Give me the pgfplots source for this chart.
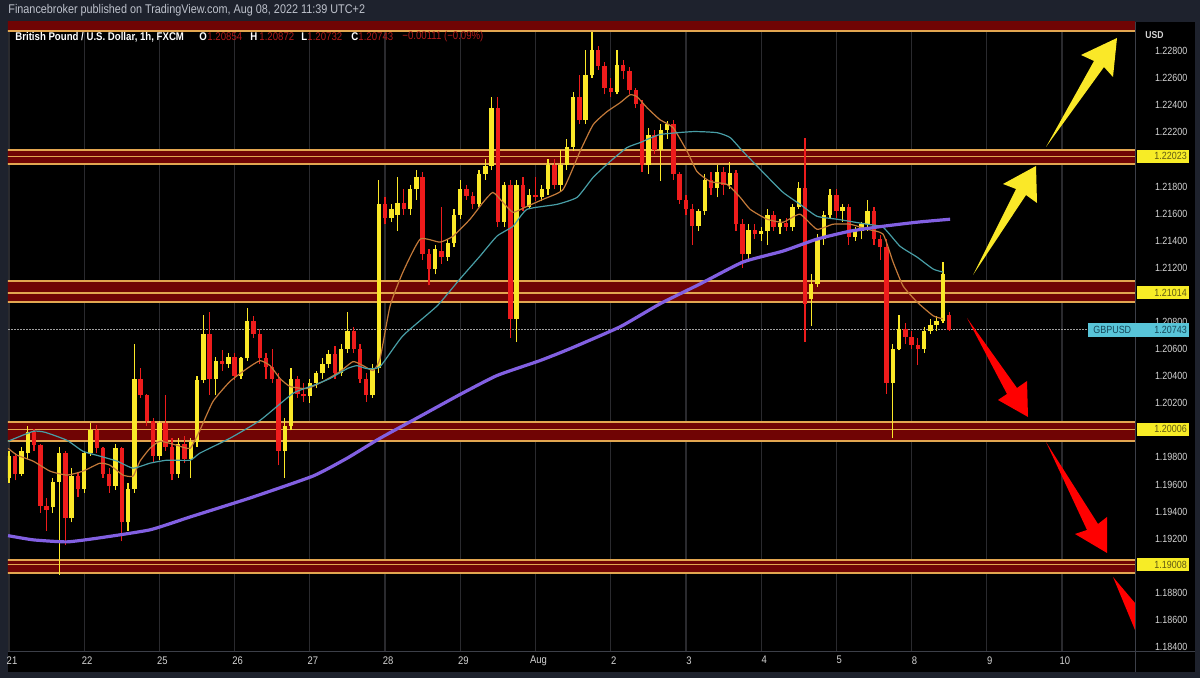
\documentclass[border=0pt]{standalone}
\usepackage{pgfplots}
\usepackage{pgfplotstable}
\pgfplotsset{compat=1.18}
\usepackage{fontspec}
\setmainfont{Liberation Sans}
\newfontfamily\tvfont[FakeStretch=0.86]{Liberation Sans}
\definecolor{framec}{RGB}{30,34,45}
\definecolor{candleup}{RGB}{250,232,40}
\definecolor{candledn}{RGB}{238,28,28}
\definecolor{zonefill}{RGB}{112,4,4}
\definecolor{zoneline}{RGB}{226,166,80}
\definecolor{gridc}{RGB}{42,42,46}
\definecolor{emaA}{RGB}{196,122,58}
\definecolor{emaB}{RGB}{72,158,166}
\definecolor{maC}{RGB}{130,96,226}
\definecolor{tickc}{RGB}{212,212,212}
\definecolor{hlbox}{RGB}{247,236,38}
\definecolor{hltext}{RGB}{95,88,20}
\definecolor{curbox}{RGB}{88,196,216}
\definecolor{curtext}{RGB}{22,70,88}
\definecolor{headc}{RGB}{190,194,204}
\definecolor{valc}{RGB}{176,26,26}
\definecolor{sepc}{RGB}{60,63,72}

% up candles: x (hours from Jul 21 00:00), open, high, low, close
\pgfplotstableread{
x o h l c
0 1.1965 1.1985 1.1961 1.1981
4 1.1968 1.1988 1.1966 1.1985
6 1.1983 1.2003 1.1979 1.1999
14 1.1943 1.1965 1.1939 1.1962
16 1.1962 1.1988 1.1893 1.1983
20 1.1935 1.1972 1.1932 1.1966
24 1.1957 1.1985 1.1954 1.1983
26 1.1983 1.2005 1.1981 1.2000
34 1.1959 1.1990 1.1956 1.1987
38 1.1932 1.1961 1.1926 1.1957
40 1.1957 1.2064 1.1954 1.2038
48 1.1981 1.2007 1.1978 1.2005
54 1.1968 1.1994 1.1965 1.1990
58 1.1979 1.1994 1.1965 1.1991
60 1.1991 1.2040 1.1988 1.2037
62 1.2037 1.2085 1.2035 1.2071
66 1.2038 1.2054 1.2026 1.2051
70 1.2049 1.2057 1.2046 1.2054
74 1.2040 1.2054 1.2038 1.2053
76 1.2053 1.2090 1.2051 1.2081
88 1.1985 1.2009 1.1965 1.2003
90 1.2003 1.2046 1.2000 1.2038
96 1.2025 1.2038 1.2020 1.2035
98 1.2035 1.2044 1.2031 1.2042
100 1.2042 1.2053 1.2038 1.2049
102 1.2049 1.2059 1.2046 1.2056
106 1.2042 1.2064 1.2040 1.2060
108 1.2060 1.2087 1.2057 1.2073
116 1.2026 1.2049 1.2024 1.2046
118 1.2046 1.2185 1.2042 1.2167
122 1.2157 1.2167 1.2154 1.2163
124 1.2159 1.2187 1.2147 1.2168
128 1.2163 1.2181 1.2159 1.2178
130 1.2178 1.2192 1.2170 1.2187
136 1.2119 1.2137 1.2115 1.2134
140 1.2128 1.2141 1.2125 1.2138
142 1.2138 1.2163 1.2135 1.2159
144 1.2159 1.2185 1.2156 1.2178
150 1.2167 1.2192 1.2165 1.2189
152 1.2189 1.2200 1.2185 1.2195
154 1.2195 1.2246 1.2192 1.2238
158 1.2154 1.2183 1.2150 1.2181
162 1.2082 1.2185 1.2065 1.2181
166 1.2165 1.2178 1.2163 1.2174
170 1.2172 1.2181 1.2169 1.2178
172 1.2178 1.2200 1.2174 1.2196
176 1.2181 1.2207 1.2176 1.2196
178 1.2196 1.2215 1.2192 1.2209
180 1.2209 1.2250 1.2206 1.2246
184 1.2229 1.2281 1.2226 1.2262
186 1.2262 1.2294 1.2260 1.2281
194 1.2250 1.2281 1.2248 1.2270
204 1.2196 1.2223 1.2189 1.2218
208 1.2207 1.2226 1.2184 1.2222
210 1.2222 1.2228 1.2215 1.2226
220 1.2151 1.2163 1.2147 1.2162
222 1.2162 1.2189 1.2159 1.2185
226 1.2179 1.2196 1.2172 1.2191
230 1.2181 1.2198 1.2178 1.2190
236 1.2130 1.2152 1.2125 1.2148
240 1.2145 1.2150 1.2140 1.2147
242 1.2147 1.2163 1.2137 1.2159
246 1.2150 1.2156 1.2145 1.2153
250 1.2150 1.2167 1.2147 1.2165
252 1.2165 1.2183 1.2163 1.2179
256 1.2097 1.2115 1.2077 1.2108
258 1.2108 1.2145 1.2106 1.2141
260 1.2141 1.2162 1.2137 1.2159
262 1.2159 1.2178 1.2157 1.2174
266 1.2162 1.2167 1.2154 1.2165
270 1.2143 1.2150 1.2140 1.2147
272 1.2147 1.2154 1.2141 1.2152
274 1.2152 1.2170 1.2147 1.2162
282 1.2035 1.2064 1.1994 1.2060
284 1.2060 1.2085 1.2059 1.2075
292 1.2060 1.2076 1.2057 1.2073
294 1.2073 1.2082 1.2071 1.2078
296 1.2078 1.2084 1.2073 1.2081
298 1.2081 1.2124 1.2079 1.2115
}\upc

% down candles
\pgfplotstableread{
x o h l c
2 1.1981 1.1983 1.1963 1.1968
8 1.1999 1.2001 1.1985 1.1989
10 1.1989 1.1990 1.1939 1.1944
12 1.1944 1.1950 1.1926 1.1941
18 1.1983 1.1985 1.1915 1.1935
22 1.1966 1.1969 1.1951 1.1957
28 1.2000 1.2004 1.1983 1.1987
30 1.1987 1.1988 1.1965 1.1968
32 1.1968 1.1972 1.1954 1.1959
36 1.1987 1.1988 1.1918 1.1932
42 1.2038 1.2046 1.2024 1.2026
44 1.2026 1.2027 1.2003 1.2007
46 1.2007 1.2009 1.1976 1.1981
50 1.2005 1.2026 1.1985 1.1988
52 1.1988 1.1994 1.1963 1.1968
56 1.1990 1.1996 1.1976 1.1979
64 1.2071 1.2087 1.2026 1.2038
68 1.2051 1.2059 1.2044 1.2049
72 1.2054 1.2057 1.2037 1.2040
78 1.2081 1.2084 1.2068 1.2071
80 1.2071 1.2075 1.2049 1.2053
82 1.2053 1.2057 1.2038 1.2047
84 1.2047 1.2060 1.2035 1.2038
86 1.2038 1.2042 1.1974 1.1985
92 1.2038 1.2040 1.2024 1.2027
94 1.2027 1.2035 1.2021 1.2025
104 1.2056 1.2062 1.2038 1.2042
110 1.2073 1.2076 1.2057 1.2060
112 1.2060 1.2064 1.2035 1.2038
114 1.2038 1.2042 1.2021 1.2026
120 1.2167 1.2172 1.2152 1.2157
126 1.2168 1.2178 1.2159 1.2163
132 1.2187 1.2191 1.2126 1.2130
134 1.2130 1.2134 1.2107 1.2119
138 1.2132 1.2165 1.2123 1.2128
146 1.2178 1.2181 1.2170 1.2173
148 1.2173 1.2176 1.2163 1.2167
156 1.2238 1.2246 1.2150 1.2154
160 1.2181 1.2185 1.2068 1.2082
164 1.2181 1.2187 1.2162 1.2165
168 1.2174 1.2187 1.2169 1.2172
174 1.2196 1.2200 1.2178 1.2181
182 1.2246 1.2262 1.2226 1.2229
188 1.2281 1.2284 1.2266 1.2269
190 1.2269 1.2272 1.2248 1.2253
192 1.2253 1.2260 1.2246 1.2250
196 1.2270 1.2273 1.2259 1.2265
198 1.2265 1.2268 1.2248 1.2251
200 1.2251 1.2253 1.2238 1.2241
202 1.2241 1.2244 1.2191 1.2196
206 1.2218 1.2222 1.2204 1.2207
212 1.2226 1.2229 1.2185 1.2189
214 1.2189 1.2191 1.2167 1.2170
216 1.2170 1.2174 1.2159 1.2163
218 1.2163 1.2167 1.2137 1.2151
224 1.2185 1.2191 1.2174 1.2179
228 1.2191 1.2194 1.2174 1.2181
232 1.2190 1.2192 1.2147 1.2152
234 1.2152 1.2156 1.2120 1.2130
238 1.2148 1.2152 1.2141 1.2145
244 1.2159 1.2162 1.2147 1.2150
248 1.2153 1.2157 1.2147 1.2150
254 1.2179 1.2216 1.2065 1.2093
264 1.2174 1.2178 1.2157 1.2162
268 1.2165 1.2167 1.2137 1.2143
276 1.2162 1.2165 1.2137 1.2141
278 1.2141 1.2144 1.2126 1.2135
280 1.2135 1.2141 1.2027 1.2035
286 1.2075 1.2079 1.2064 1.2069
288 1.2069 1.2073 1.2060 1.2063
290 1.2063 1.2068 1.2048 1.2060
300 1.20854 1.20872 1.20732 1.20743
}\dnc

% purple long moving average
\pgfplotstableread{
x y
-0.3 1.19222
7.7 1.19191
18.5 1.19176
29.0 1.19206
45.0 1.19265
57.8 1.19360
76.9 1.19500
97.0 1.19662
107.9 1.19794
118.4 1.19941
131.2 1.20103
143.9 1.20264
155.7 1.20404
169.4 1.20514
179.0 1.20602
195.0 1.20764
207.7 1.20933
220.5 1.21080
234.2 1.21242
247.0 1.21323
257.8 1.21411
268.4 1.21470
278.9 1.21506
289.7 1.21536
300.3 1.21558
}\maslow

% teal moving average
\pgfplotstableread{
x y
-0.3 1.19919
7.7 1.19992
11.5 1.19985
18.5 1.19926
23.6 1.19845
29.0 1.19809
34.5 1.19772
39.6 1.19720
45.0 1.19757
50.4 1.19779
57.8 1.19779
60.9 1.19831
70.5 1.19941
80.1 1.20073
90.6 1.20272
97.0 1.20330
102.4 1.20382
107.9 1.20455
111.0 1.20477
114.2 1.20455
118.4 1.20470
125.7 1.20698
136.6 1.20918
143.9 1.21117
150.3 1.21286
155.7 1.21433
160.8 1.21506
165.3 1.21631
174.9 1.21668
181.3 1.21720
186.4 1.21867
191.8 1.21984
197.2 1.22087
201.4 1.22124
207.7 1.22183
218.3 1.22205
225.9 1.22197
230.1 1.22161
234.2 1.22058
241.9 1.21874
247.0 1.21756
252.4 1.21668
257.8 1.21580
264.2 1.21558
273.8 1.21521
278.9 1.21499
284.3 1.21359
289.7 1.21279
294.9 1.21190
298.0 1.21168
}\mamid

% orange moving average
\pgfplotstableread{
x y
-0.3 1.19867
2.6 1.19816
7.7 1.19772
13.1 1.19698
18.5 1.19669
23.6 1.19698
29.0 1.19757
32.2 1.19742
36.4 1.19669
39.6 1.19662
41.8 1.19772
45.0 1.19867
48.2 1.19919
53.6 1.19889
57.8 1.19867
60.9 1.20000
65.1 1.20213
70.5 1.20360
75.9 1.20455
80.1 1.20514
83.3 1.20477
86.5 1.20382
89.7 1.20323
95.1 1.20308
100.2 1.20360
105.6 1.20433
109.8 1.20507
113.0 1.20477
116.2 1.20441
118.4 1.20529
121.6 1.20918
125.7 1.21168
131.2 1.21411
137.5 1.21389
141.7 1.21433
147.1 1.21558
151.3 1.21683
154.4 1.21756
157.6 1.21683
160.8 1.21609
165.3 1.21653
170.4 1.21705
176.8 1.21778
182.2 1.22058
186.4 1.22256
190.8 1.22352
195.0 1.22418
198.2 1.22477
200.4 1.22462
203.6 1.22381
207.7 1.22293
211.9 1.22234
216.4 1.22058
219.5 1.21911
223.7 1.21837
229.1 1.21815
233.3 1.21720
236.5 1.21631
241.9 1.21558
247.0 1.21536
252.4 1.21595
257.8 1.21484
262.9 1.21521
268.4 1.21521
273.8 1.21484
278.9 1.21448
282.1 1.21242
285.3 1.21065
289.7 1.20948
294.9 1.20845
298.0 1.20823
}\mafast

\pgfplotsset{
  wick/.style={draw=none, no markers, forget plot,
    error bars/.cd, y dir=plus, y explicit, error mark=none,
    error bar style={line width=0.6pt, draw=#1, solid}},
  body/.style={draw=none, no markers, forget plot,
    error bars/.cd, y dir=plus, y explicit, error mark=none,
    error bar style={line width=2.2pt, line cap=butt, draw=#1, solid}},
}
\newcommand{\zone}[3]{%
  \fill[zonefill] (axis cs:-5,#1) rectangle (axis cs:365,#3);
  \draw[zoneline, line width=0.6pt] (axis cs:-5,#1) -- (axis cs:365,#1)
     (axis cs:-5,#2) -- (axis cs:365,#2) (axis cs:-5,#3) -- (axis cs:365,#3);}

\begin{document}
\begin{tikzpicture}
\useasboundingbox (0,0) rectangle (600pt,339pt);
\fill[framec] (0,0) rectangle (600pt,339pt);
\fill[black] (4pt,3pt) rectangle (597.5pt,328pt);
\begin{axis}[
  at={(4pt,13pt)}, anchor=south west, scale only axis,
  width=563.5pt, height=315pt,
  xmin=-0.32, xmax=359.3, ymin=1.183631, ymax=1.230141,
  axis line style={draw=none},
  major tick length=0pt,
  xtick={0,24,48,72,96,120,144,168,192,216,240,264,288,312,336},
  xticklabels={21,22,25,26,27,28,29,Aug,2,3,4,5,8,9,10},
  ytick={1.184,1.186,1.188,1.192,1.194,1.196,1.198,1.202,1.204,1.206,1.208,1.212,1.214,1.216,1.218,1.222,1.224,1.226,1.228},
  yticklabel pos=right,
  scaled y ticks=false,
  xmajorgrids, grid style={gridc, line width=0.6pt},
  /pgf/number format/assume math mode=true,
  y tick label style={/pgf/number format/fixed, /pgf/number format/fixed zerofill, /pgf/number format/precision=5, anchor=west, inner sep=0pt, xshift=9.8pt, font=\tvfont\fontsize{5.2}{6}\selectfont, text=tickc},
  x tick label style={anchor=north, inner sep=0pt, yshift=-2pt, xshift=1.5pt, font=\tvfont\fontsize{5.5}{6}\selectfont, text=tickc},
]
% horizontal support / resistance zones
\fill[zonefill] (axis cs:-5,1.22948) rectangle (axis cs:365,1.2310);
\draw[zoneline, line width=0.6pt] (axis cs:-5,1.22948) -- (axis cs:365,1.22948);
\zone{1.21966}{1.22023}{1.22069}
\zone{1.20947}{1.21014}{1.21102}
\zone{1.19921}{1.20006}{1.20061}
\zone{1.18946}{1.19008}{1.19042}
% current price line
\draw[gray!75, dash pattern=on 0.6pt off 0.9pt, line width=0.45pt] (axis cs:-5,1.20743) -- (axis cs:344.3,1.20743);
% candles
\addplot[wick=candleup] table[x=x, y=l, y error plus expr={\thisrow{h}-\thisrow{l}}] {\upc};
\addplot[body=candleup] table[x=x, y=o, y error plus expr={\thisrow{c}-\thisrow{o}}] {\upc};
\addplot[wick=candledn] table[x=x, y=l, y error plus expr={\thisrow{h}-\thisrow{l}}] {\dnc};
\addplot[body=candledn] table[x=x, y=c, y error plus expr={\thisrow{o}-\thisrow{c}}] {\dnc};
% moving averages
\addplot[emaA, line width=0.6pt, smooth, tension=0.3] table[x=x, y=y] {\mafast};
\addplot[emaB, line width=0.6pt, smooth, tension=0.3] table[x=x, y=y] {\mamid};
\addplot[maC, line width=1.6pt, smooth, tension=0.3] table[x=x, y=y] {\maslow};
\end{axis}
% pixel coordinate scope (x right, y down, 1px = 0.5pt)
\begin{scope}[shift={(0pt,339pt)}, x=0.5pt, y=-0.5pt]
  % arrows
  \fill[candleup] (1046,147) -- (1094,61) -- (1081,55) -- (1117,38) -- (1113,77) -- (1104,67) -- cycle;
  \fill[candleup] (973,275) -- (1016,189) -- (1003,184) -- (1036,166) -- (1037,203) -- (1026,195) -- cycle;
  \fill[red] (967,318) -- (1017,388) -- (1027,381) -- (1028,417) -- (998,400) -- (1007,394) -- cycle;
  \fill[red] (1046,442) -- (1098,524) -- (1107,517) -- (1107,553) -- (1075,534) -- (1087,530) -- cycle;
  \fill[red] (1113,577) -- (1135,603) -- (1135,630) -- cycle;
  % cover below price scale
  \fill[black] (1136,653) rectangle (1195,672);
  % separators
  \draw[sepc, line width=0.5pt] (1135,22) -- (1135,672);
  \draw[sepc, line width=0.5pt] (8,652) -- (1195,652);
  % highlighted price boxes
  \foreach \yy/\lab in {156.2/1.22023, 292.9/1.21014, 429.4/1.20006, 564.6/1.19008}{
    \fill[hlbox] (1137,\yy-6.5) rectangle (1189,\yy+6.5);
    \node[anchor=west, inner sep=0pt, text=hltext, font=\tvfont\fontsize{5.2}{6}\selectfont] at (1154,\yy) {\lab};
  }
  \fill[curbox] (1088,322.6) rectangle (1189,336.6);
  \node[anchor=west, inner sep=0pt, text=curtext, font=\tvfont\fontsize{5.2}{6}\selectfont] at (1093,329.6) {GBPUSD};
  \node[anchor=west, inner sep=0pt, text=curtext, font=\tvfont\fontsize{5.2}{6}\selectfont] at (1154,329.6) {1.20743};
  \node[anchor=west, inner sep=0pt, text=tickc, font=\tvfont\bfseries\fontsize{5}{6}\selectfont] at (1145,35) {USD};
  % header
  \node[anchor=west, inner sep=0pt, text=headc, font=\tvfont\fontsize{6.3}{7}\selectfont] at (8,10) {Financebroker published on TradingView.com, Aug 08, 2022 11:39 UTC+2};
  \node[anchor=west, inner sep=0pt, text=white, font=\tvfont\bfseries\fontsize{5.6}{7}\selectfont] at (15,37) {British Pound / U.S. Dollar, 1h, FXCM};
  \begin{scope}[every node/.style={anchor=west, inner sep=0pt, font=\tvfont\fontsize{5.6}{7}\selectfont}]
    \node[text=white, font=\tvfont\bfseries\fontsize{5.6}{7}\selectfont] at (199,37) {O};
    \node[text=valc] at (207,37) {1.20854};
    \node[text=white, font=\tvfont\bfseries\fontsize{5.6}{7}\selectfont] at (250,37) {H};
    \node[text=valc] at (259,37) {1.20872};
    \node[text=white, font=\tvfont\bfseries\fontsize{5.6}{7}\selectfont] at (301,37) {L};
    \node[text=valc] at (307,37) {1.20732};
    \node[text=white, font=\tvfont\bfseries\fontsize{5.6}{7}\selectfont] at (351,37) {C};
    \node[text=valc] at (358,37) {1.20743};
    \node[text=valc] at (402,37) {−0.00111 (−0.09\%)};
  \end{scope}
\end{scope}
\end{tikzpicture}
\end{document}
